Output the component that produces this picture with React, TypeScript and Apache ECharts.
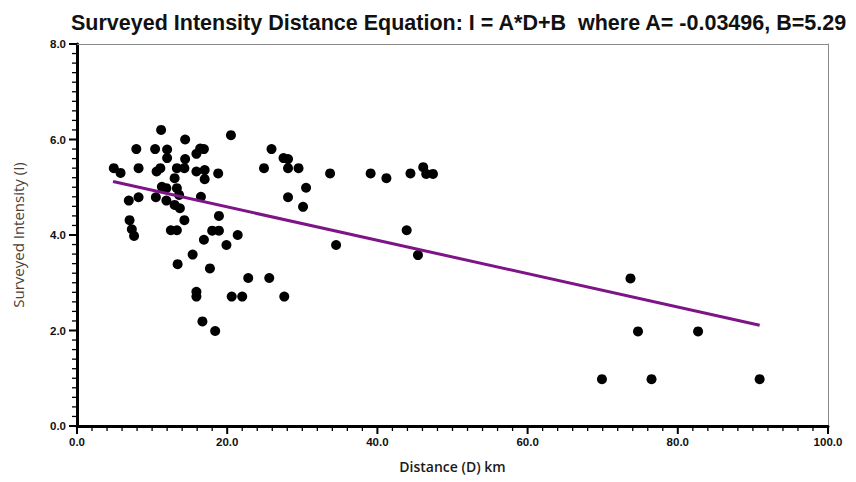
import React, { useEffect, useRef } from "react";
import * as echarts from "echarts";

const distances: number[] = [
  4.9, 5.8, 6.9, 8.2, 8.2, 7.9, 10.4, 11.2, 12.0, 12.0, 14.4, 10.6, 11.1, 13.3, 14.3,
  14.4, 13.0, 11.3, 11.9, 13.3, 10.5, 11.9, 13.6, 13.0, 13.7, 7.0, 7.3, 7.6, 12.5, 13.3,
  14.3, 18.0, 18.9, 18.9, 21.4, 16.9, 19.9, 15.4, 13.4, 17.7, 22.8, 25.6, 15.9, 15.9, 20.6,
  22.0, 27.6, 16.7, 18.4, 20.5, 16.4, 16.9, 15.9, 15.9, 17.0, 17.0, 18.8, 16.5, 25.9, 27.5,
  28.1, 24.9, 28.1, 29.5, 33.7, 30.5, 28.1, 30.1, 34.5, 39.1, 41.2, 44.4, 46.1, 46.5, 47.4,
  43.9, 45.4, 73.7, 74.7, 82.7, 69.9, 76.5, 90.9,
];
const intensities: number[] = [
  5.40, 5.30, 4.72, 4.79, 5.40, 5.80, 5.80, 6.20, 5.79, 5.61, 6.00, 5.33, 5.40, 5.40, 5.40,
  5.59, 5.19, 5.01, 4.98, 4.98, 4.79, 4.72, 4.84, 4.63, 4.56, 4.31, 4.12, 3.98, 4.10, 4.10,
  4.31, 4.09, 4.09, 4.40, 4.00, 3.90, 3.79, 3.59, 3.39, 3.30, 3.10, 3.10, 2.81, 2.71, 2.71,
  2.71, 2.71, 2.19, 1.99, 6.09, 5.81, 5.80, 5.70, 5.33, 5.36, 5.17, 5.29, 4.80, 5.80, 5.61,
  5.59, 5.40, 5.40, 5.40, 5.29, 4.99, 4.79, 4.59, 3.79, 5.29, 5.19, 5.29, 5.42, 5.28, 5.28,
  4.10, 3.58, 3.09, 1.98, 1.98, 0.98, 0.98, 0.98,
];
const fitDistances: number[] = [4.8, 90.9];
const fitIntensities: number[] = [5.12, 2.11];

const xTicks = { min: 0, max: 100, interval: 20, minorSplit: 10 };
const yTicks = { min: 0, max: 8, interval: 2, minorSplit: 10 };

function tickSteps(t: { min: number; max: number; interval: number; minorSplit: number }) {
  const step = t.interval / t.minorSplit;
  const n = Math.round((t.max - t.min) / step);
  const out: { v: number; major: boolean }[] = [];
  for (let i = 0; i <= n; i++) {
    out.push({ v: +(t.min + i * step).toFixed(6), major: i % t.minorSplit === 0 });
  }
  return out;
}

export default function App() {
  const ref = useRef<HTMLDivElement>(null);
  useEffect(() => {
    if (!ref.current) return;
    const chart = echarts.init(ref.current, undefined, { renderer: "svg" });
    const labelFont = {
      fontFamily: "Liberation Sans",
      fontWeight: "bold" as const,
      fontSize: 11.5,
      color: "#111",
    };
    const frameAxis = {
      type: "value" as const,
      axisLine: { show: true, onZero: false, lineStyle: { color: "#8a8a8a", width: 1 } },
      axisTick: { show: false },
      minorTick: { show: false },
      axisLabel: { show: false },
      splitLine: { show: false },
    };
    chart.setOption({
      animation: false,
      title: {
        text: "Surveyed Intensity Distance Equation: I = A*D+B  where A= -0.03496, B=5.29",
        left: 66,
        top: 7,
        textStyle: {
          fontFamily: "Liberation Sans",
          fontWeight: "bold",
          fontSize: 21.5,
          color: "#111",
        },
      },
      grid: { left: 77, right: 28, top: 44, bottom: 56 },
      xAxis: [
        {
          type: "value",
          min: xTicks.min,
          max: xTicks.max,
          interval: xTicks.interval,
          name: "Distance (D) km",
          nameLocation: "middle",
          nameGap: 33,
          nameTextStyle: {
            fontFamily: "Open Sans",
            fontWeight: 600,
            fontSize: 14,
            color: "#1a1a1a",
          },
          axisLine: { show: true, onZero: false, lineStyle: { color: "#000000", width: 3 } },
          axisTick: { show: false },
          minorTick: { show: false },
          splitLine: { show: false },
          axisLabel: {
            ...labelFont,
            margin: 10,
            formatter: (v: number) => v.toFixed(1),
          },
        },
        { ...frameAxis, position: "top", min: xTicks.min, max: xTicks.max },
      ],
      yAxis: [
        {
          type: "value",
          min: yTicks.min,
          max: yTicks.max,
          interval: yTicks.interval,
          name: "Surveyed Intensity (I)",
          nameLocation: "middle",
          nameGap: 52,
          nameTextStyle: {
            fontFamily: "Open Sans",
            fontSize: 15,
            color: "#4d4035",
          },
          axisLine: { show: true, onZero: false, lineStyle: { color: "#000000", width: 3 } },
          axisTick: { show: false },
          minorTick: { show: false },
          splitLine: { show: false },
          axisLabel: {
            ...labelFont,
            margin: 11,
            formatter: (v: number) => v.toFixed(1),
          },
        },
        { ...frameAxis, position: "right", min: yTicks.min, max: yTicks.max },
      ],
      series: [
        {
          type: "scatter",
          xAxisIndex: 0,
          yAxisIndex: 0,
          data: distances.map((d, i) => [d, intensities[i]]),
          symbol: "circle",
          symbolSize: 10,
          itemStyle: { color: "#000000", opacity: 1 },
          z: 3,
        },
        {
          type: "line",
          xAxisIndex: 0,
          yAxisIndex: 0,
          data: fitDistances.map((d, i) => [d, fitIntensities[i]]),
          showSymbol: false,
          symbol: "none",
          lineStyle: { color: "#7d1487", width: 3 },
          z: 4,
        },
      ],
    });

    // Tick marks placed through the chart's own scales (convertToPixel).
    const tickEls: any[] = [];
    tickSteps(xTicks).forEach((t) => {
      const p = chart.convertToPixel({ gridIndex: 0 }, [t.v, yTicks.min]) as number[];
      if (!p) return;
      const len = t.major ? 8 : 5;
      tickEls.push({
        type: "line",
        silent: true,
        z: 100,
        shape: { x1: p[0], y1: p[1], x2: p[0], y2: p[1] + len },
        style: { stroke: "#000000", lineWidth: t.major ? 2 : 1.3 },
      });
    });
    tickSteps(yTicks).forEach((t) => {
      const p = chart.convertToPixel({ gridIndex: 0 }, [xTicks.min, t.v]) as number[];
      if (!p) return;
      const len = t.major ? 8 : 5;
      tickEls.push({
        type: "line",
        silent: true,
        z: 100,
        shape: { x1: p[0] - len, y1: p[1], x2: p[0], y2: p[1] },
        style: { stroke: "#000000", lineWidth: t.major ? 2 : 1.3 },
      });
    });
    chart.setOption({ graphic: { elements: tickEls } });

    return () => chart.dispose();
  }, []);
  return (
    <div
      ref={ref}
      style={{ position: "absolute", left: 0, top: 0, width: 856, height: 482, background: "#ffffff" }}
    />
  );
}
